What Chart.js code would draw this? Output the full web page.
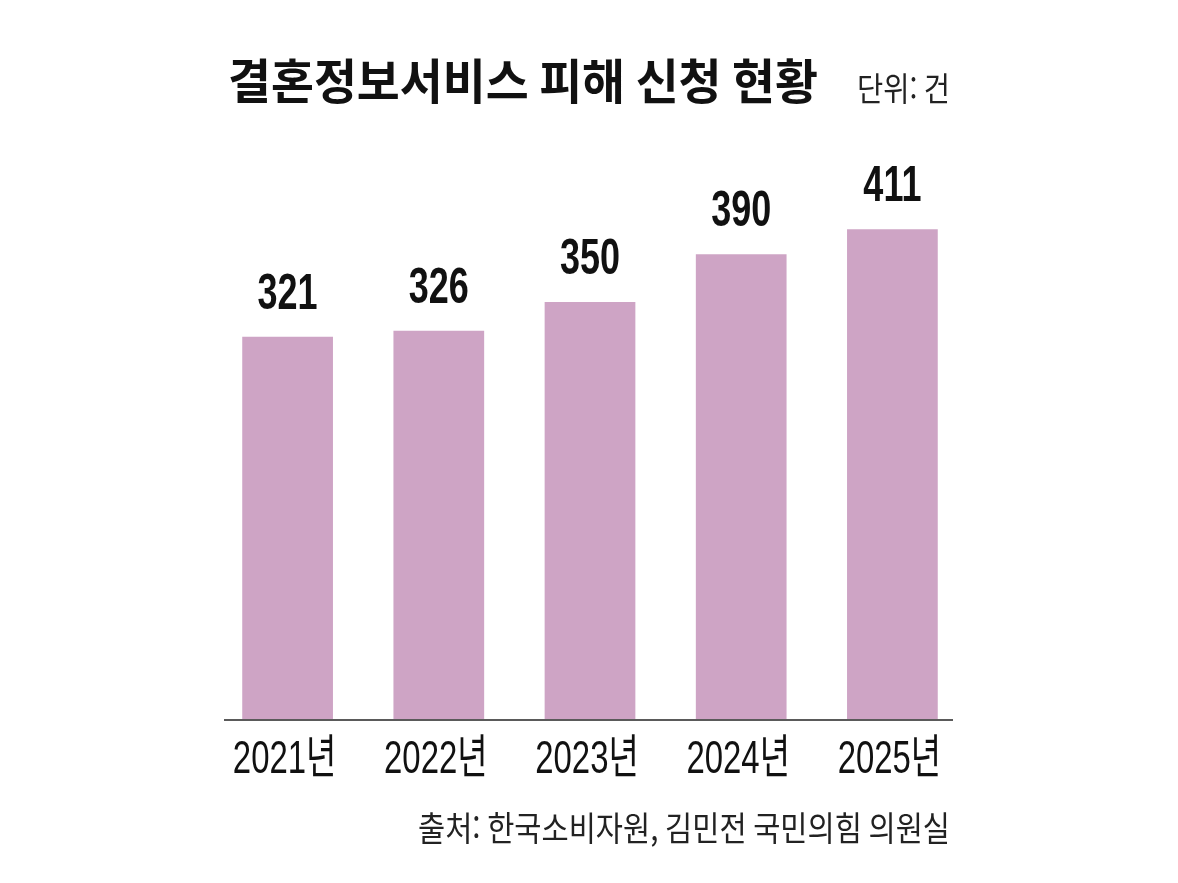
<!DOCTYPE html>
<html lang="ko">
<head>
<meta charset="utf-8">
<title>결혼정보서비스 피해 신청 현황</title>
<script src="https://cdn.jsdelivr.net/npm/chart.js@4"></script>
<style>
    html, body { margin: 0; padding: 0; background: #fff; }
    #wrap { width: 1178px; height: 883px; position: relative; }
</style>
</head>
<body>
<div id="wrap"><canvas id="chart"></canvas></div>
<script>
// 데이터
const years = ['2021년', '2022년', '2023년', '2024년', '2025년'];
const cases = [321, 326, 350, 390, 411];

const titleText = '결혼정보서비스 피해 신청 현황';
const unitText = '단위: 건';
const sourceText = '출처: 한국소비자원, 김민전 국민의힘 의원실';

const FONT = '"Liberation Sans", "Noto Sans CJK KR", sans-serif';
const KFONT = '"Noto Sans CJK KR", sans-serif';

// 가로로 눌린 글자 그리기
function drawText(ctx, text, x, y, font, align, sx, baseline) {
    ctx.save();
    ctx.font = font;
    ctx.textAlign = align;
    ctx.textBaseline = baseline || 'alphabetic';
    ctx.translate(x, y);
    ctx.scale(sx, 1);
    ctx.fillText(text, 0, 0);
    ctx.restore();
}

// 지정한 폭에 맞춰 그리기
function fitText(ctx, text, x, y, font, align, width) {
    ctx.save();
    ctx.font = font;
    const w = ctx.measureText(text).width;
    ctx.restore();
    drawText(ctx, text, x, y, font, align, width / w, 'middle');
}

const labelsPlugin = {
    id: 'labels',
    afterDatasetsDraw(chart) {
        const ctx = chart.ctx;
        const area = chart.chartArea;
        const bars = chart.getDatasetMeta(0).data;

        // 기준선
        ctx.save();
        ctx.strokeStyle = '#5a5a5a';
        ctx.lineWidth = 2;
        ctx.beginPath();
        ctx.moveTo(area.left + 12, area.bottom);
        ctx.lineTo(area.right - 15, area.bottom);
        ctx.stroke();
        ctx.restore();

        ctx.fillStyle = '#111';
        bars.forEach((bar, i) => {
            drawText(ctx, String(cases[i]), bar.x, bar.y - 28, 'bold 50px ' + FONT, 'center', 0.72);
            drawText(ctx, years[i], bar.x - 3, area.bottom + 53, '47px ' + FONT, 'center', 0.7);
        });

        fitText(ctx, titleText, 228, 81, 'bold 48px ' + KFONT, 'left', 590);
        ctx.fillStyle = '#222';
        fitText(ctx, unitText, 950, 88, '33px ' + KFONT, 'right', 93);
        fitText(ctx, sourceText, 950, 828, '34px ' + KFONT, 'right', 532);
    }
};

const ctx = document.getElementById('chart').getContext('2d');
new Chart(ctx, {
    type: 'bar',
    data: {
        labels: years,
        datasets: [{
            data: cases,
            backgroundColor: '#cea4c5',
            borderWidth: 0,
            barPercentage: 0.6,
            categoryPercentage: 1
        }]
    },
    options: {
        responsive: true,
        maintainAspectRatio: false,
        animation: false,
        devicePixelRatio: 1,
        layout: { padding: { left: 212, right: 210, top: 123, bottom: 163 } },
        plugins: {
            legend: { display: false },
            tooltip: { enabled: false }
        },
        scales: {
            x: { display: false },
            y: { display: false, min: 0, max: 500 }
        }
    },
    plugins: [labelsPlugin]
});
</script>
</body>
</html>
